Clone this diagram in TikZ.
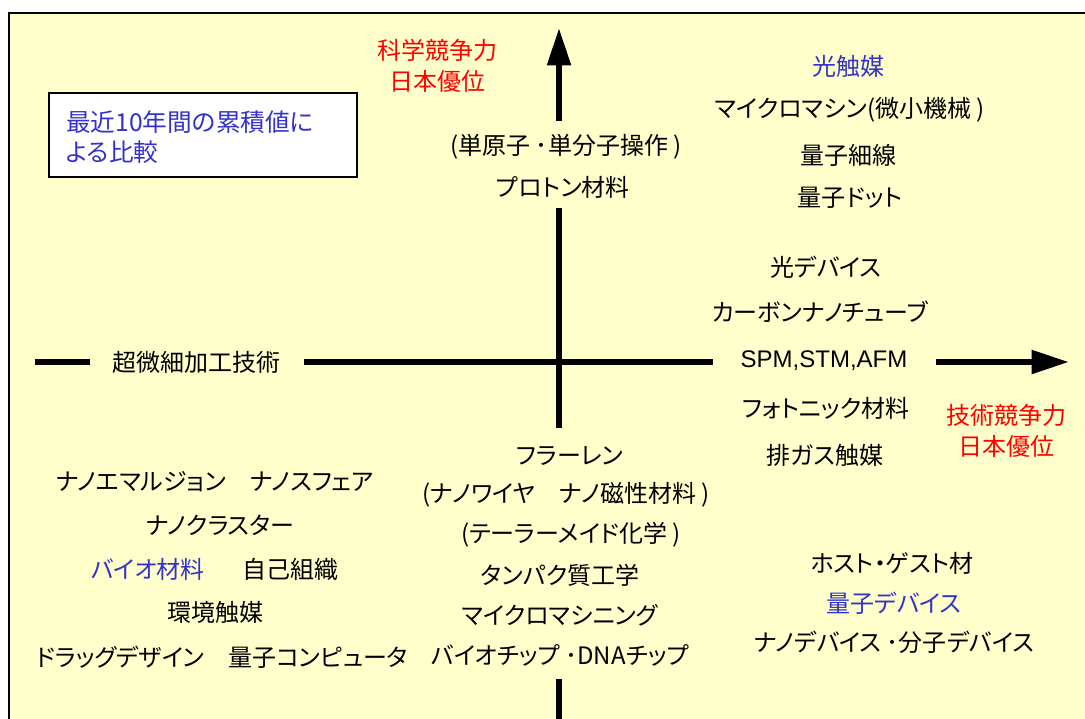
\documentclass[tikz,border=0pt]{standalone}
\usepackage{fontspec}
\usetikzlibrary{arrows.meta}
\setmainfont{Noto Sans CJK JP}
\newfontfamily\jp[RawFeature=+palt]{Noto Sans CJK JP}
\newfontfamily\lat{Liberation Sans}
\definecolor{bgyel}{HTML}{FFFFCC}
\definecolor{myblue}{HTML}{3333CC}
\definecolor{myred}{HTML}{FF0000}
\tikzset{
  lbl/.style={font=\jp\fontsize{18}{22.5}\selectfont, inner sep=0pt, text=black},
  bl/.style={lbl, text=myblue},
  rd/.style={lbl, text=myred, align=center},
  axis/.style={line width=4.6pt},
  axarrow/.style={axis, -{Triangle[length=28pt,width=17pt]}}
}
\begin{document}
\begin{tikzpicture}[x=0.75pt,y=-0.75pt]
\useasboundingbox (0,0) rectangle (1085,718);
\begin{scope}
\clip (0,0) rectangle (1085,718);
\fill[white] (0,0) rectangle (1085,718);
\draw[fill=bgyel, line width=1.3pt] (9,13) rectangle (1100,740);
\end{scope}

% legend box
\node[draw, line width=1.3pt, fill=white, minimum width=308*0.75pt, minimum height=84*0.75pt, inner sep=0pt] (box) at (203,135) {};
\node[bl, anchor=west, align=left, font=\jp\fontsize{18.5}{23}\selectfont] (boxt) at (66,137) {最近10年間の累積値に\\よる比較};

% axes coordinates
\coordinate (vtop) at (559,28);
\coordinate (v1) at (559,121);
\coordinate (v2) at (559,208);
\coordinate (v3) at (559,428);
\coordinate (v4) at (559,679);
\coordinate (v5) at (559,725);
\coordinate (h0) at (35,362);
\coordinate (h1) at (90,362);
\coordinate (h2) at (304,362);
\coordinate (h3) at (713,362);
\coordinate (h4) at (936,362);
\coordinate (hend) at (1069,362);

\draw[axarrow] (v1) -- (vtop);
\draw[axis] (v2) -- (v3);
\draw[axis] (v4) -- (v5);
\draw[axis] (h0) -- (h1);
\draw[axis] (h2) -- (h3);
\draw[axarrow] (h4) -- (hend);

% axis labels
\node[rd, font=\jp\fontsize{18}{23.5}\selectfont] (sci) at (437,66) {科学競争力\\日本優位};
\node[rd, font=\jp\fontsize{18}{23.5}\selectfont] (tech) at (1006,431) {技術競争力\\日本優位};
\node[lbl] (chobi) at (196,362) {超微細加工技術};

% upper middle
\node[lbl] (n1) at (566,147) {(単原子 ･単分子操作 )};
\node[lbl] (n2) at (563,187) {プロトン材料};

% upper right
\node[bl] (r1) at (848,66) {光触媒};
\node[lbl] (r2) at (850,110) {マイクロマシン(微小機械 )};
\node[lbl] (r3) at (848,155) {量子細線};
\node[lbl] (r4) at (850,198) {量子ドット};
\node[lbl] (r5) at (826,267) {光デバイス};
\node[lbl] (r6) at (820,312) {カーボンナノチューブ};
\node[lbl, font=\lat\fontsize{18}{21}\selectfont] (r7) at (824,361) {SPM,STM,AFM};
\node[lbl] (r8) at (826,408) {フォトニック材料};
\node[lbl] (r9) at (825,455) {排ガス触媒};

% lower middle
\node[lbl] (m1) at (570,456) {フラーレン};
\node[lbl] (m2) at (566,495) {(ナノワイヤ\quad ナノ磁性材料 )};
\node[lbl] (m3) at (571,535) {(テーラーメイド化学 )};
\node[lbl] (m4) at (560,575) {タンパク質工学};
\node[lbl] (m5) at (560,615) {マイクロマシニング};
\node[lbl] (m6) at (560,655) {バイオチップ ･DNAチップ};

% lower left
\node[lbl] (l1) at (215,482) {ナノエマルジョン\quad ナノスフェア};
\node[lbl] (l2) at (220,525) {ナノクラスター};
\node[bl] (l3) at (148,569) {バイオ材料};
\node[lbl] (l4) at (290,569) {自己組織};
\node[lbl] (l5) at (215,612) {環境触媒};
\node[lbl] (l6) at (222,657) {ドラッグデザイン\quad 量子コンピュータ};

% lower right
\node[lbl] (b1) at (892,563) {ホスト・ゲスト材};
\node[bl] (b2) at (894,603) {量子デバイス};
\node[lbl] (b3) at (894,642) {ナノデバイス ･分子デバイス};
\end{tikzpicture}
\end{document}
